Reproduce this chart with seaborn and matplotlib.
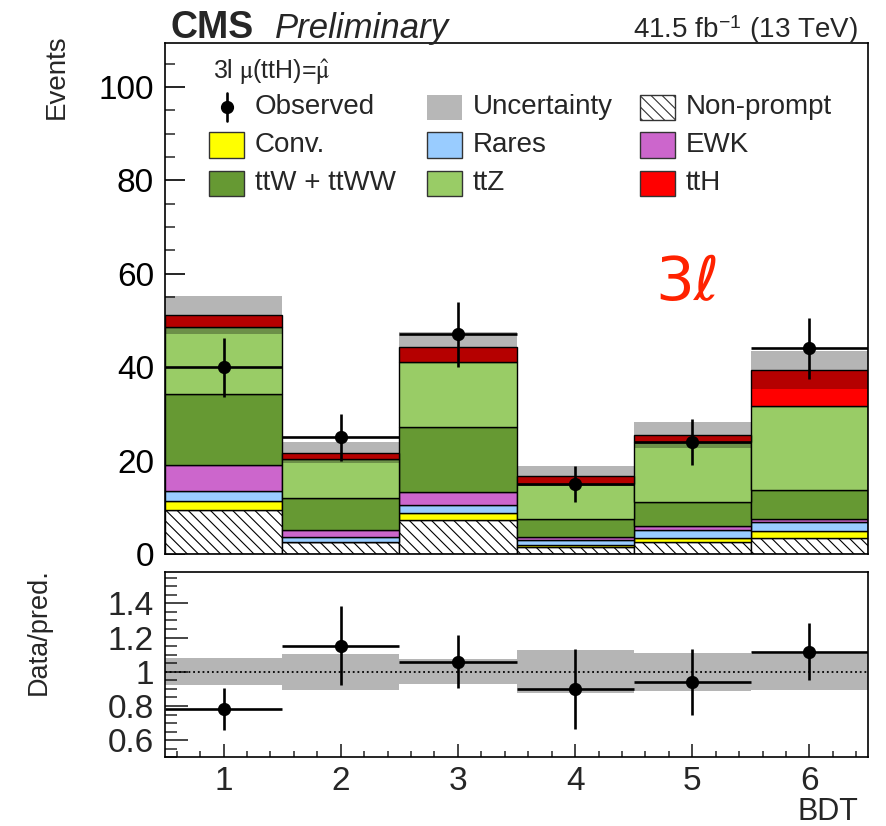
import numpy as np
import pandas as pd
import matplotlib
matplotlib.use("Agg")
import matplotlib.pyplot as plt
from matplotlib.patches import Rectangle
from matplotlib.lines import Line2D
from matplotlib.ticker import MultipleLocator, FormatStrFormatter
import seaborn as sns

# ---- yields per BDT bin (3l category) ----
bins = [1, 2, 3, 4, 5, 6]
nonprompt = [9.4, 2.6, 7.3, 1.6, 2.6, 3.4]
conv = [2.0, 0.0, 1.4, 0.3, 0.9, 1.5]
rares = [2.0, 1.1, 1.8, 1.1, 1.6, 1.9]
ewk = [5.6, 1.4, 2.8, 0.7, 0.9, 0.6]
ttw = [15.3, 6.8, 13.8, 3.9, 5.2, 6.2]
ttz = [14.4, 8.4, 13.9, 7.4, 12.8, 18.1]
tth = [2.5, 1.4, 3.4, 1.7, 1.5, 7.7]
total_unc = [4.0, 2.3, 3.2, 2.1, 2.8, 4.1]
observed = [40, 25, 47, 15, 24, 44]
observed_err = [6.3, 5.0, 6.9, 3.9, 4.9, 6.6]

# stacking order: first entry ends on top
processes = ["ttH", "ttZ", "ttW + ttWW", "EWK", "Rares", "Conv.", "Non-prompt"]
yields = [tth, ttz, ttw, ewk, rares, conv, nonprompt]
palette = {
    "ttH": "#ff0000",
    "ttZ": "#99cc66",
    "ttW + ttWW": "#669933",
    "EWK": "#cc66cc",
    "Rares": "#99ccff",
    "Conv.": "#ffff00",
    "Non-prompt": "#ffffff",
}
HATCH = "\\\\\\"

df = pd.DataFrame({
    "bin": np.tile(bins, len(processes)),
    "process": np.repeat(processes, len(bins)),
    "events": np.concatenate(yields),
})

total = np.sum(np.array(yields), axis=0)
obs = np.array(observed, dtype=float)
ratio = obs / total
ratio_err = np.array(observed_err) / total
band = np.array(total_unc) / total

sns.set_theme(style="ticks")
plt.rcParams["font.family"] = ["Liberation Sans", "DejaVu Sans"]
plt.rcParams["mathtext.fontset"] = "stix"
plt.rcParams["hatch.linewidth"] = 0.8
plt.rcParams["axes.linewidth"] = 1.2

W, H = 886, 826
fig = plt.figure(figsize=(W / 100, H / 100), dpi=100)
fig.patch.set_facecolor("white")

AX_L, AX_R = 165, 868
MAIN_T, MAIN_B = 43, 554
RAT_T, RAT_B = 571.7, 757.3

ax = fig.add_axes([AX_L / W, 1 - MAIN_B / H, (AX_R - AX_L) / W, (MAIN_B - MAIN_T) / H])
rax = fig.add_axes([AX_L / W, 1 - RAT_B / H, (AX_R - AX_L) / W, (RAT_B - RAT_T) / H])

# ---- stacked backgrounds + signal ----
sns.histplot(
    data=df, x="bin", weights="events", hue="process", hue_order=processes,
    multiple="stack", discrete=True, shrink=1, palette=palette, alpha=1,
    edgecolor="black", linewidth=1.0, legend=False, ax=ax,
)
for p in ax.patches:
    fc = p.get_facecolor()
    if fc[0] > 0.99 and fc[1] > 0.99 and fc[2] > 0.99:
        p.set_hatch(HATCH)

# total uncertainty band
ax.bar(bins, 2 * np.array(total_unc), bottom=total - np.array(total_unc),
       width=1.0, color="black", alpha=0.29, linewidth=0, zorder=2)

# observed data
ax.errorbar(bins, obs, yerr=observed_err, xerr=0.5, fmt="o", color="black",
            ms=8.5, elinewidth=1.9, capsize=0, zorder=5)

ax.set_xlim(0.5, 6.5)
ax.set_ylim(0, 109.4)
ax.set_xlabel("")
ax.set_ylabel("Events", fontsize=20, loc="top")
ax.yaxis.set_label_coords(-0.135, 1.016)
ax.yaxis.set_major_locator(MultipleLocator(20))
ax.yaxis.set_minor_locator(MultipleLocator(5))
ax.xaxis.set_major_locator(MultipleLocator(1))
ax.xaxis.set_minor_locator(MultipleLocator(0.2))
ax.tick_params(axis="y", which="major", direction="in", length=14.5, width=1.2,
               labelsize=24, pad=8, colors="black")
ax.tick_params(axis="y", which="minor", direction="in", length=7.2, width=1.1)
ax.tick_params(axis="x", which="major", direction="in", length=12, width=1.2,
               labelbottom=False)
ax.tick_params(axis="x", which="minor", direction="in", length=7, width=1.1)
for s in ax.spines.values():
    s.set_color("black")
    s.set_linewidth(1.2)
    s.set_zorder(6)

# ---- legend ----
def fx(x):
    return (x - AX_L) / (AX_R - AX_L)

def fy(y):
    return (MAIN_B - y) / (MAIN_B - MAIN_T)

ax.text(fx(213), fy(72), r"3l $\mathrm{\mu}$(ttH)=$\hat{\mathrm{\mu}}$",
        transform=ax.transAxes, fontsize=18, ha="left", va="center")

box_w, box_h = 35, 25
col_box = [209, 427, 640]
col_txt = [255, 473, 686]
row_y = [107, 145, 183]
entries = [
    ("obs", "Observed"), ("unc", "Uncertainty"), ("Non-prompt", "Non-prompt"),
    ("Conv.", "Conv."), ("Rares", "Rares"), ("EWK", "EWK"),
    ("ttW + ttWW", "ttW + ttWW"), ("ttZ", "ttZ"), ("ttH", "ttH"),
]
for i, (key, label) in enumerate(entries):
    r, c = divmod(i, 3)
    yc = row_y[r]
    x0 = col_box[c]
    if key == "obs":
        ax.add_line(Line2D([fx(x0 + 18)] * 2, [fy(yc - 14), fy(yc + 14)],
                           transform=ax.transAxes, color="black", lw=1.9, clip_on=False))
        ax.add_line(Line2D([fx(x0 + 18)], [fy(yc)], transform=ax.transAxes,
                           marker="o", ms=8.5, color="black", clip_on=False))
    elif key == "unc":
        ax.add_patch(Rectangle((fx(x0), fy(yc + box_h / 2)), box_w / 703, box_h / 511,
                               transform=ax.transAxes, facecolor="#b7b7b7",
                               edgecolor="none", clip_on=False))
    else:
        rect = Rectangle((fx(x0), fy(yc + box_h / 2)), box_w / 703, box_h / 511,
                         transform=ax.transAxes, facecolor=palette[key],
                         edgecolor="#333333", lw=1.0, clip_on=False)
        if key == "Non-prompt":
            rect.set_hatch(HATCH)
        ax.add_patch(rect)
    ax.text(fx(col_txt[c]), fy(yc), label, transform=ax.transAxes,
            fontsize=20, ha="left", va="center")

ax.text(fx(655), fy(300), "3ℓ", transform=ax.transAxes, fontsize=44,
        color="#ff2200", ha="left", va="baseline", family=["DejaVu Sans"])

# ---- header ----
fig.text(170 / W, 1 - 38 / H, "CMS", fontsize=27, fontweight="bold",
         ha="left", va="baseline")
fig.text(275 / W, 1 - 38 / H, "Preliminary", fontsize=25, style="italic",
         ha="left", va="baseline")
fig.text(858 / W, 1 - 38 / H, r"41.5 fb$^{\mathregular{-1}}$ (13 TeV)", fontsize=20,
         ha="right", va="baseline")

# ---- ratio panel ----
rax.bar(bins, 2 * band, bottom=1 - band, width=1.0, color="black", alpha=0.29,
        linewidth=0, zorder=1)
rax.axhline(1.0, color="black", lw=1.3, ls=(0, (1, 1.6)), zorder=2)
rax.errorbar(bins, ratio, yerr=ratio_err, xerr=0.5, fmt="o", color="black",
             ms=8.5, elinewidth=1.9, capsize=0, zorder=5)
rax.set_xlim(0.5, 6.5)
rax.set_ylim(0.5, 1.585)
rax.yaxis.set_major_locator(MultipleLocator(0.2))
rax.yaxis.set_minor_locator(MultipleLocator(0.05))
rax.yaxis.set_major_formatter(FormatStrFormatter("%g"))
rax.set_yticks([0.6, 0.8, 1.0, 1.2, 1.4])
rax.xaxis.set_major_locator(MultipleLocator(1))
rax.xaxis.set_minor_locator(MultipleLocator(0.2))
rax.tick_params(axis="y", which="major", direction="in", length=16.5, width=1.2,
                labelsize=24, pad=8)
rax.tick_params(axis="y", which="minor", direction="in", length=8.5, width=1.1)
rax.tick_params(axis="x", which="major", direction="in", length=9.4, width=1.2,
                labelsize=24, pad=6)
rax.tick_params(axis="x", which="minor", direction="in", length=4.5, width=1.1)
rax.set_ylabel("Data/pred.", fontsize=19.5, loc="top")
rax.yaxis.set_label_coords(-0.161, 1.02)
rax.set_xlabel("BDT", fontsize=22, loc="right")
rax.xaxis.set_label_coords(0.986, -0.215)
for s in rax.spines.values():
    s.set_color("black")
    s.set_linewidth(1.2)

fig.savefig("out.png", dpi=100)
